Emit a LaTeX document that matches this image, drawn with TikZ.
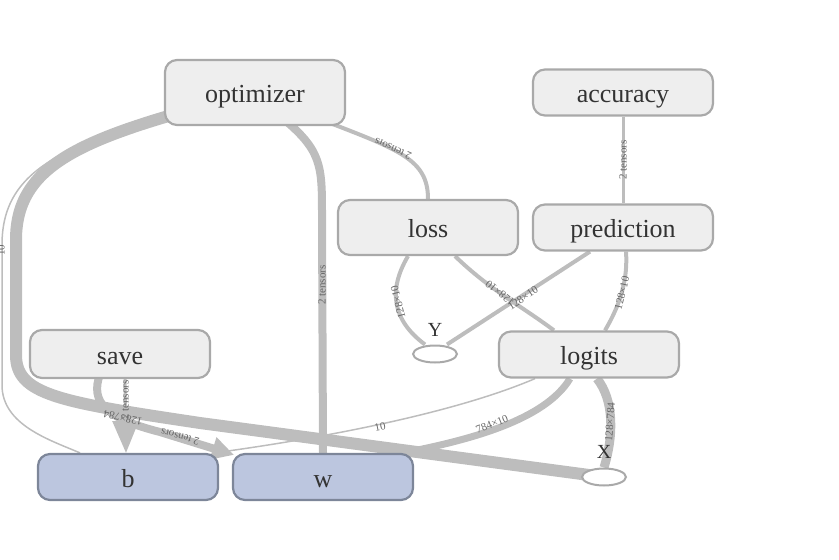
\documentclass[tikz,border=0pt]{standalone}
\usepackage{fontspec}
\setmainfont{Liberation Serif}
\usetikzlibrary{arrows.meta,shapes.geometric,backgrounds}
\definecolor{opfill}{HTML}{EEEEEE}
\definecolor{opline}{HTML}{A9A9A9}
\definecolor{varfill}{HTML}{BCC6DF}
\definecolor{varline}{HTML}{7D8699}
\definecolor{edgegray}{HTML}{BDBDBD}
\definecolor{labgray}{HTML}{666666}
\definecolor{nodetext}{HTML}{333333}

\begin{document}
\begin{tikzpicture}[x=1pt, y=-1pt]
    \tikzset{opnode/.style={draw=opline, fill=opfill, line width=2.2pt,
        rounded corners=12pt, minimum width=180pt, minimum height=46pt,
        inner sep=0pt, text height=25pt, text depth=5pt,
        text=nodetext, font=\fontsize{26}{30}\selectfont},
      varnode/.style={opnode, draw=varline, fill=varfill},
      phnode/.style={ellipse, draw=opline, fill=white, line width=2pt,
        minimum width=44pt, minimum height=17pt, inner sep=0pt},
      phlabel/.style={text=nodetext, font=\fontsize{20}{20}\selectfont, inner sep=0pt},
      flow/.style={draw=edgegray, line width=#1},
      flow/.default=4pt,
      elabel/.style={text=labgray, font=\fontsize{11}{11}\selectfont, inner sep=0pt}}
    \useasboundingbox (0,0) rectangle (839,560);
    % ops and variables
    \node[opnode, minimum height=65pt] (optimizer) at (255,92.5) {optimizer};
    \node[opnode] (accuracy) at (623,92.5) {accuracy};
    \node[opnode, minimum height=55pt] (loss) at (428,227.5) {loss};
    \node[opnode] (prediction) at (623,227.5) {prediction};
    \node[opnode, minimum height=48pt] (save) at (120,354) {save};
    \node[opnode] (logits) at (589,354.5) {logits};
    \node[varnode] (b) at (128,477) {b};
    \node[varnode] (w) at (323,477) {w};
    % placeholders
    \node[phnode] (Y) at (435,354) {};
    \node[phlabel] (Ylab) at (435,330) {Y};
    \node[phnode] (X) at (604,477) {};
    \node[phlabel] (Xlab) at (604,452) {X};
    % edges
    \begin{scope}[on background layer]
      \draw[flow=12pt] (optimizer.center) .. controls (90,135) and (16,160) .. (16,240)
        -- (16,355) .. controls (16,395) and (60,402) .. (200,423) -- (X.center);
      \draw[flow=1.5pt] (optimizer.center) .. controls (75,138) and (2,162) .. (2,245)
        -- (2,385) .. controls (2,425) and (50,440) .. ([xshift=-48pt]b.north);
      \draw[flow=8pt] ([xshift=25pt,yshift=10pt]optimizer.south) .. controls (322,150) and (322,165) .. (322,215) -- (w.north);
      \draw[flow] ([xshift=70pt,yshift=5pt]optimizer.south) .. controls (400,150) and (428,160) .. (loss.north);
      \draw[flow=3pt] (accuracy.south) -- (prediction.north);
      \draw[flow] ([xshift=-20pt]loss.south) .. controls (388,290) and (392,320) .. ([xshift=-10pt]Y.north);
      \draw[flow] ([xshift=27pt]loss.south) .. controls (490,290) and (520,305) .. ([xshift=-35pt]logits.north);
      \draw[flow] ([xshift=12pt]Y.north) -- ([xshift=-33pt]prediction.south);
      \draw[flow] ([xshift=16pt]logits.north) .. controls (620,305) and (628,280) .. ([xshift=3pt]prediction.south);
      \draw[flow=1.5pt] ([xshift=-54pt]logits.south) .. controls (450,415) and (310,440) .. ([xshift=86pt]b.north);
      \draw[flow=7pt] ([xshift=-19pt]logits.south) .. controls (545,420) and (470,440) .. ([xshift=80pt]w.north);
      \draw[flow=9pt] ([xshift=8pt]logits.south) .. controls (614,400) and (614,435) .. (X.north);
      \draw[flow=3pt, -{Triangle[length=32pt,width=26pt]}] ([xshift=5pt]save.south) -- ([xshift=-2pt]b.north);
      \draw[flow=8pt, -{Triangle[length=22pt,width=22pt]}] ([xshift=-20pt,yshift=5pt]save.south)
        .. controls (90,402) and (105,418) .. (160,432) -- ([xshift=-89pt,yshift=-2pt]w.north);
    \end{scope}
    % edge labels
    \node[elabel, rotate=90] (lbopt) at (1,250) {10};
    \node[elabel, rotate=90] (lwopt) at (322,285) {2 tensors};
    \node[elabel, rotate=156] (llossopt) at (393,149) {2 tensors};
    \node[elabel, rotate=90] (lpredacc) at (623,160) {2 tensors};
    \node[elabel, rotate=104] (lyloss) at (398,302) {128×10};
    \node[elabel, rotate=141] (llogloss) at (500,293) {128×10};
    \node[elabel, rotate=34] (lypred) at (523,298) {128×10};
    \node[elabel, rotate=76] (llogpred) at (622,293) {128×10};
    \node[elabel, rotate=12] (lblog) at (380,427) {10};
    \node[elabel, rotate=22] (lwlog) at (492,424) {784×10};
    \node[elabel, rotate=86] (lxlog) at (610,422) {128×784};
    \node[elabel, rotate=90] (lbsave) at (125,400) {2 tensors};
    \node[elabel, rotate=165] (lwsave) at (180,437) {2 tensors};
    \node[elabel, rotate=168] (lxopt) at (123,418) {128×784};
\end{tikzpicture}
\end{document}
